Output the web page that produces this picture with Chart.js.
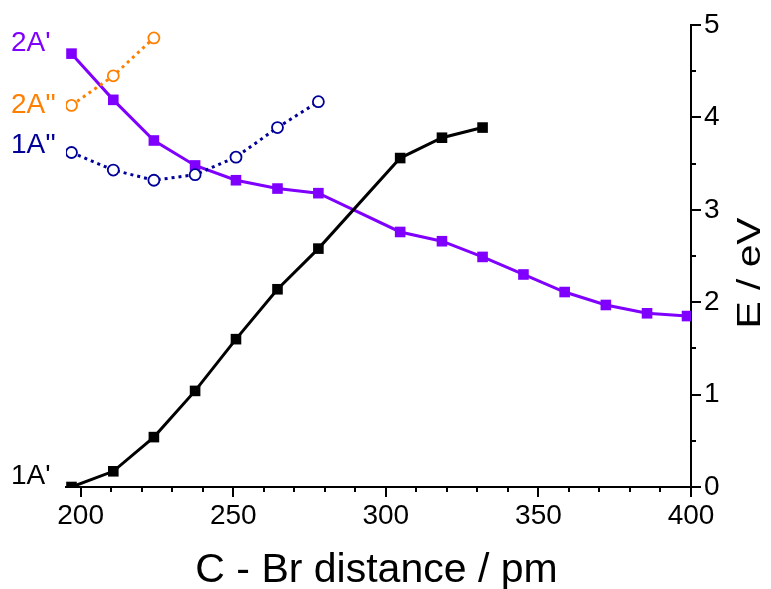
<!DOCTYPE html>
<html>
<head>
  <meta charset="UTF-8">
  <title>C-Br potential curves</title>
  <script src="https://cdn.jsdelivr.net/npm/chart.js"></script>
  <style>
    html, body { margin: 0; padding: 0; background: #fff; }
    canvas { display: block; }
  </style>
</head>
<body>
  <canvas id="pes" width="771" height="589"></canvas>

  <script>
    // C-Br distance (pm) of the computed points
    const dist = [197, 210.7, 224, 237.5, 250.9, 264.5, 277.9, 304.7, 318.4, 331.7, 345.1, 358.6, 372.1, 385.6, 398.7];

    // energies in eV
    const e2Ap  = [4.69, 4.19, 3.75, 3.48, 3.32, 3.23, 3.18, 2.76, 2.66, 2.49, 2.30, 2.11, 1.97, 1.88, 1.85];
    const e1Ap  = [0, 0.17, 0.54, 1.04, 1.60, 2.14, 2.58, 3.56, 3.78, 3.89];
    const e1App = [3.62, 3.43, 3.32, 3.38, 3.57, 3.89, 4.17];
    const e2App = [4.13, 4.45, 4.86];

    const xTicks = [200, 250, 300, 350, 400];
    const yTicks = [0, 1, 2, 3, 4, 5];

    const pts = ys => ys.map((y, i) => ({ x: dist[i], y: y }));

    const PURPLE = '#8000ff', ORANGE = '#ff8000', NAVY = '#000099';
    const FONT = "'Liberation Sans', Arial, sans-serif";

    // minor/major tick marks, axis titles and state labels
    const decor = {
      id: 'decor',
      afterDraw(chart) {
        const ctx = chart.ctx;
        const x = chart.scales.x, y = chart.scales.y;
        const a = chart.chartArea;
        ctx.save();
        ctx.strokeStyle = '#000';
        ctx.lineWidth = 2;
        ctx.beginPath();
        for (let v = 200; v <= 400; v += 10) {
          const px = Math.round(x.getPixelForValue(v));
          const len = v % 50 === 0 ? 10 : 5;
          ctx.moveTo(px, a.bottom);
          ctx.lineTo(px, a.bottom + len);
        }
        for (let v = 0; v <= 5; v += 0.5) {
          const py = Math.round(y.getPixelForValue(v));
          const len = v % 1 === 0 ? 10 : 5;
          ctx.moveTo(a.right, py);
          ctx.lineTo(a.right + len, py);
        }
        ctx.stroke();

        // state labels, left aligned at the page edge
        ctx.font = '28px ' + FONT;
        ctx.textAlign = 'left';
        ctx.textBaseline = 'middle';
        const names = [["2A''", ORANGE, 0], ["1A''", NAVY, -7], ["1A'", '#000', -11], ["2A'", PURPLE, -10]];
        names.forEach((n, i) => {
          const p = chart.getDatasetMeta(i).data[0];
          ctx.fillStyle = n[1];
          ctx.fillText(n[0], 11, p.y + n[2]);
        });

        // axis titles
        ctx.fillStyle = '#000';
        ctx.textAlign = 'center';
        ctx.textBaseline = 'alphabetic';
        ctx.font = '41px ' + FONT;
        ctx.fillText('C - Br distance / pm', (a.left + a.right) / 2 - 2, 582);

        ctx.save();
        ctx.translate(760, 273);
        ctx.rotate(-Math.PI / 2);
        ctx.scale(1.2, 1);
        ctx.font = '34px ' + FONT;
        ctx.fillText('E / eV', 0, 0);
        ctx.restore();

        ctx.restore();
      }
    };

    new Chart(document.getElementById('pes'), {
      type: 'scatter',
      data: {
        datasets: [
          {
            label: "2A''", data: pts(e2App), showLine: true,
            borderColor: ORANGE, borderWidth: 3, borderDash: [3, 4],
            pointStyle: 'circle', pointRadius: 5.5, pointBorderWidth: 1.8,
            pointBorderColor: ORANGE, pointBackgroundColor: '#fff'
          },
          {
            label: "1A''", data: pts(e1App), showLine: true,
            borderColor: NAVY, borderWidth: 3, borderDash: [3, 4],
            pointStyle: 'circle', pointRadius: 5.5, pointBorderWidth: 1.8,
            pointBorderColor: NAVY, pointBackgroundColor: '#fff'
          },
          {
            label: "1A'", data: pts(e1Ap), showLine: true,
            borderColor: '#000', borderWidth: 3,
            pointStyle: 'rect', pointRadius: 7.5, pointBorderWidth: 0,
            pointBackgroundColor: '#000'
          },
          {
            label: "2A'", data: pts(e2Ap), showLine: true,
            borderColor: PURPLE, borderWidth: 3,
            pointStyle: 'rect', pointRadius: 7.5, pointBorderWidth: 0,
            pointBackgroundColor: PURPLE
          }
        ]
      },
      options: {
        responsive: false,
        animation: false,
        layout: { padding: { left: 66, top: 25, right: 0, bottom: 0 } },
        plugins: {
          legend: { display: false },
          tooltip: { enabled: false }
        },
        scales: {
          x: {
            type: 'linear',
            position: 'bottom',
            min: 195.2,
            max: 400,
            afterBuildTicks: s => { s.ticks = xTicks.map(v => ({ value: v })); },
            afterFit: s => { s.height = 102; s.paddingLeft = 0; s.paddingRight = 0; },
            grid: { display: false, drawTicks: false },
            border: { display: true, color: '#000', width: 2 },
            ticks: { color: '#000', padding: 12, maxRotation: 0, font: { family: FONT, size: 28 } },
            title: { display: false }
          },
          y: {
            type: 'linear',
            position: 'right',
            min: 0,
            max: 5,
            afterBuildTicks: s => { s.ticks = yTicks.map(v => ({ value: v })); },
            afterFit: s => { s.width = 80; s.paddingTop = 0; s.paddingBottom = 0; },
            grid: { display: false, drawTicks: false },
            border: { display: true, color: '#000', width: 2 },
            ticks: { color: '#000', padding: 13, font: { family: FONT, size: 28 } },
            title: { display: false }
          }
        }
      },
      plugins: [decor]
    });
  </script>
</body>
</html>
